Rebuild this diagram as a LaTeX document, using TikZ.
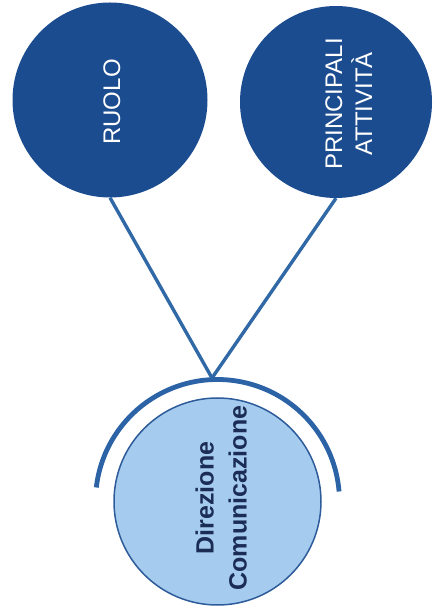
\documentclass[tikz,border=0pt]{standalone}
\usepackage{fontspec}
\setmainfont{Liberation Sans}
\usetikzlibrary{calc,backgrounds}
\definecolor{dcnavy}{HTML}{1B4C8F}
\definecolor{dcline}{HTML}{3069A6}
\definecolor{dcarc}{HTML}{2C63A6}
\definecolor{dcsky}{HTML}{A5CBEE}
\definecolor{dcrim}{HTML}{2E5C9A}
\definecolor{dcink}{HTML}{1B2C55}
\tikzset{
  disc/.style={circle, inner sep=0pt, draw=none, fill=dcnavy},
  core/.style={circle, inner sep=0pt, draw=dcrim, line width=1.5pt, fill=dcsky},
  link/.style={line width=3.4pt, color=dcline},
  halo/.style={line width=4.8pt, color=dcarc},
  wtxt/.style={font=\fontsize{24}{30}\selectfont, text=white, inner sep=0pt},
  btxt/.style={font=\bfseries\fontsize{25}{33}\selectfont, text=dcink, inner sep=0pt},
}
\begin{document}
\begin{tikzpicture}[x=1pt, y=1pt]
  \useasboundingbox (0,0) rectangle (433,615);
  \coordinate (hub) at (212,237);
  % the two upper discs and the centre one
  \node[disc, minimum size=195pt] (ruolo) at (110,515) {};
  \node[disc, minimum size=192pt] (attiv) at (336,513) {};
  \begin{scope}[on background layer]
    \draw[link] (ruolo.south) -- (hub);
    \draw[link] (attiv.south) -- (hub);
  \end{scope}
  \draw[halo] ($(217.5,113.5)+(173.4:122)$) arc[start angle=173.4, end angle=4.7, radius=122];
  \node[core, minimum size=207pt] (dir) at (217.5,113.5) {};
  % labels
  \node[wtxt] (ruolotxt) at (114,513) {\rotatebox{90}{\begin{tabular}{@{}c@{}}RUOLO\end{tabular}}};
  \node[wtxt] (attivtxt) at (351,511) {\rotatebox{90}{\begin{tabular}{@{}c@{}}PRINCIPALI\\ATTIVITÀ\end{tabular}}};
  \node[btxt] (dirtxt) at (223.5,117) {\rotatebox{90}{\begin{tabular}{@{}c@{}}Direzione\\Comunicazione\end{tabular}}};
\end{tikzpicture}
\end{document}
